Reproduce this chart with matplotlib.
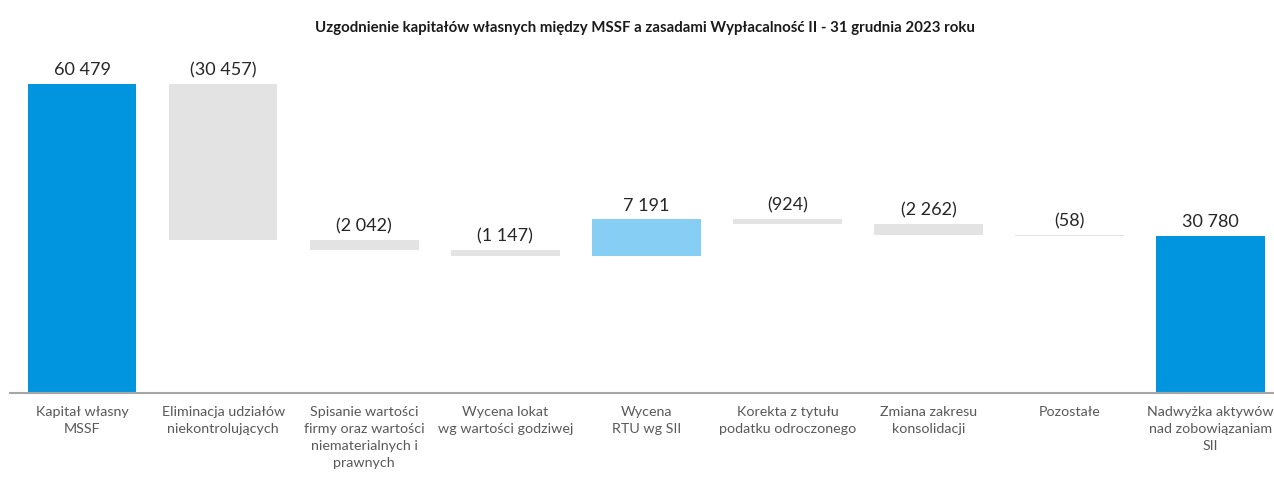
import matplotlib.pyplot as plt
import numpy as np

# data
categories = [
    "Kapitał własny\nMSSF",
    "Eliminacja udziałów\nniekontrolujących",
    "Spisanie wartości\nfirmy oraz wartości\nniematerialnych i\nprawnych",
    "Wycena lokat\nwg wartości godziwej",
    "Wycena\nRTU wg SII",
    "Korekta z tytułu\npodatku odroczonego",
    "Zmiana zakresu\nkonsolidacji",
    "Pozostałe",
    "Nadwyżka aktywów\nnad zobowiązaniam\nSII",
]
values = [60479, -30457, -2042, -1147, 7191, -924, -2262, -58, 30780]
value_labels = ["60 479", "(30 457)", "(2 042)", "(1 147)", "7 191",
                "(924)", "(2 262)", "(58)", "30 780"]
is_total = [True, False, False, False, False, False, False, False, True]

BLUE = "#0095DE"
LIGHT_BLUE = "#87CEF5"
GRAY = "#E3E3E3"

plt.rcParams['font.family'] = ['Lato', 'DejaVu Sans']

# waterfall bottoms / heights
bottoms, heights, colors = [], [], []
running = 0
for v, tot in zip(values, is_total):
    if tot:
        bottoms.append(0)
        heights.append(v)
        colors.append(BLUE)
        running = v
    else:
        if v >= 0:
            bottoms.append(running)
            colors.append(LIGHT_BLUE)
        else:
            bottoms.append(running + v)
            colors.append(GRAY)
        heights.append(abs(v))
        running += v

x = np.arange(len(categories))

fig = plt.figure(figsize=(12.74, 4.79), dpi=100)
ax = fig.add_axes([0.008, 0.1795, 0.992, 0.716])
ax.bar(x, heights, bottom=bottoms, width=0.77, color=colors, zorder=2)

for i in range(len(x)):
    top = bottoms[i] + heights[i]
    ax.annotate(value_labels[i], (x[i], top), xytext=(0, 4), textcoords="offset points",
                ha="center", va="bottom", fontsize=13, color="#262626")

ax.set_xlim(-0.51, 8.45)
ax.set_ylim(0, 67100)
ax.set_xticks(x)
ax.set_xticklabels(categories, fontsize=10.3, color="#595959", linespacing=1.5)
ax.tick_params(axis="x", length=0, pad=9)
ax.set_yticks([])
for s in ["top", "right", "left"]:
    ax.spines[s].set_visible(False)
ax.spines["bottom"].set_color("#A6A6A6")
ax.spines["bottom"].set_linewidth(1.5)

fig.text(0.506, 0.942, "Uzgodnienie kapitałów własnych między MSSF a zasadami Wypłacalność II - 31 grudnia 2023 roku",
         ha="center", va="center", fontsize=10.8, fontweight="bold", color="#1a1a1a")

fig.savefig("out.png", dpi=100)
